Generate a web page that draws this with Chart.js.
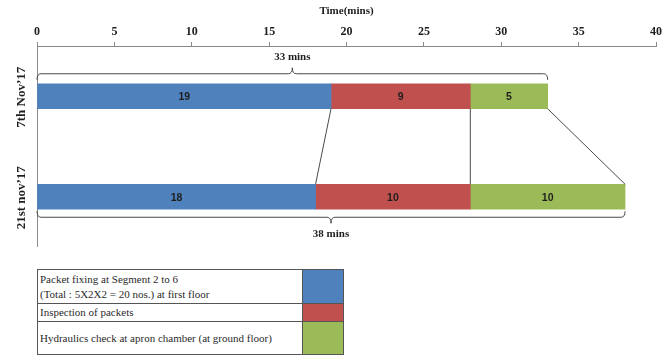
<!DOCTYPE html>
<html>
<head>
<meta charset="utf-8">
<script src="https://cdn.jsdelivr.net/npm/chart.js@4/dist/chart.umd.min.js"></script>
<style>
  html, body { margin: 0; padding: 0; background: #fff; }
  #wrap { position: relative; width: 665px; height: 358px; overflow: hidden; }
  #c { position: absolute; left: 0; top: 0; }
  #legend {
    position: absolute; left: 37px; top: 269px;
    border-collapse: collapse;
    font-family: "Liberation Serif", serif; font-size: 11px; color: #2a2a2a;
  }
  #legend td { border: 1px solid #555; padding: 0 2px; line-height: 15px; }
  #legend td.txt { width: 260px; }
  #legend td.sw { width: 40px; padding: 0; }
</style>
</head>
<body>
<div id="wrap">
  <canvas id="c" width="665" height="247"></canvas>
  <table id="legend"></table>
</div>
<script>
// Survey dates (one bar each)
const categories = ["7th Nov\u201917", "21st nov\u201917"];
// Minutes spent per activity on each date
const packetFixing = [19, 18];
const inspection = [9, 10];
const hydraulics = [5, 10];
// Activity names and colours
const activityNames = [
  "Packet fixing at Segment 2 to 6\n(Total : 5X2X2 = 20 nos.) at first floor",
  "Inspection of packets",
  "Hydraulics check at apron chamber (at ground floor)"
];
const activityColors = ["#4F81BD", "#C0504D", "#9BBB59"];
const legendRowHeights = [34, 18, 33];
// Time axis
const xMin = 0, xMax = 40, xStep = 5;
const axisTitle = "Time(mins)";

const seriesValues = [packetFixing, inspection, hydraulics];

// Legend table below the chart
const table = document.getElementById('legend');
activityNames.forEach((name, i) => {
  const tr = document.createElement('tr');
  tr.style.height = legendRowHeights[i] + 'px';
  const t = document.createElement('td');
  t.className = 'txt';
  t.innerHTML = name.split('\n').join('<br>');
  const s = document.createElement('td');
  s.className = 'sw';
  s.style.background = activityColors[i];
  tr.appendChild(t); tr.appendChild(s);
  table.appendChild(tr);
});

// Values printed in the middle of each segment
const segmentLabels = {
  id: 'segmentLabels',
  afterDatasetsDraw(chart) {
    const ctx = chart.ctx;
    ctx.save();
    ctx.font = 'bold 10.5px "Liberation Sans", sans-serif';
    ctx.fillStyle = '#1e1e1e';
    ctx.textAlign = 'center';
    ctx.textBaseline = 'middle';
    chart.data.datasets.forEach((ds, di) => {
      chart.getDatasetMeta(di).data.forEach((bar, j) => {
        ctx.fillText(String(ds.data[j]), (bar.base + bar.x) / 2, bar.y + 1);
      });
    });
    ctx.restore();
  }
};

// Lines joining the end of each activity between the two dates
const connectors = {
  id: 'connectors',
  afterDatasetsDraw(chart) {
    const ctx = chart.ctx;
    ctx.save();
    ctx.strokeStyle = '#4a4a4a';
    ctx.lineWidth = 1;
    chart.data.datasets.forEach((ds, di) => {
      const bars = chart.getDatasetMeta(di).data;
      const a = bars[0], b = bars[1];
      ctx.beginPath();
      ctx.moveTo(a.x, a.y + a.height / 2);
      ctx.lineTo(b.x, b.y - b.height / 2);
      ctx.stroke();
    });
    ctx.restore();
  }
};

// Curly braces showing the total time for each date
function drawBrace(ctx, x0, x1, y, dir) {
  const xm = (x0 + x1) / 2, h = 6, r = 4;
  ctx.beginPath();
  ctx.moveTo(x0, y - dir * h);
  ctx.quadraticCurveTo(x0, y, x0 + r, y);
  ctx.lineTo(xm - r, y);
  ctx.quadraticCurveTo(xm, y, xm, y + dir * h);
  ctx.quadraticCurveTo(xm, y, xm + r, y);
  ctx.lineTo(x1 - r, y);
  ctx.quadraticCurveTo(x1, y, x1, y - dir * h);
  ctx.stroke();
  return xm;
}
const totals = {
  id: 'totals',
  afterDatasetsDraw(chart) {
    const ctx = chart.ctx;
    const xs = chart.scales.x;
    const n = chart.data.datasets.length;
    ctx.save();
    ctx.strokeStyle = '#4a4a4a';
    ctx.lineWidth = 1;
    ctx.fillStyle = '#1e1e1e';
    ctx.font = 'bold 11px "Liberation Serif", serif';
    ctx.textAlign = 'center';
    ctx.textBaseline = 'middle';
    categories.forEach((cat, j) => {
      const total = seriesValues.reduce((s, arr) => s + arr[j], 0);
      const bar = chart.getDatasetMeta(n - 1).data[j];
      const x0 = xs.getPixelForValue(0), x1 = xs.getPixelForValue(total);
      const dir = j === 0 ? -1 : 1;
      const y = j === 0 ? bar.y - bar.height / 2 - 10 : bar.y + bar.height / 2 + 8;
      const xm = drawBrace(ctx, x0, x1, y, dir);
      ctx.fillText(total + ' mins', xm, y + dir * 17);
    });
    ctx.restore();
  }
};

// Rotated date labels beside the bars
const dateLabels = {
  id: 'dateLabels',
  afterDraw(chart) {
    const ctx = chart.ctx;
    const ys = chart.scales.y;
    ctx.save();
    ctx.fillStyle = '#1e1e1e';
    ctx.font = 'bold 13px "Liberation Serif", serif';
    ctx.textAlign = 'center';
    ctx.textBaseline = 'middle';
    categories.forEach((cat, i) => {
      ctx.save();
      ctx.translate(22, ys.getPixelForValue(i) + 1);
      ctx.rotate(-Math.PI / 2);
      ctx.fillText(cat, 0, 0);
      ctx.restore();
    });
    ctx.restore();
  }
};

new Chart(document.getElementById('c'), {
  type: 'bar',
  data: {
    labels: categories,
    datasets: seriesValues.map((vals, i) => ({
      label: activityNames[i],
      data: vals,
      backgroundColor: activityColors[i],
      borderWidth: 0,
      barThickness: 25
    }))
  },
  options: {
    indexAxis: 'y',
    responsive: false,
    animation: false,
    layout: { padding: { left: 0, right: 9, top: 0, bottom: 0 } },
    plugins: { legend: { display: false }, tooltip: { enabled: false } },
    scales: {
      x: {
        position: 'top',
        stacked: true,
        min: xMin, max: xMax,
        afterFit(scale) { scale.height = 46; },
        ticks: {
          stepSize: xStep,
          padding: 3,
          color: '#1e1e1e',
          font: { family: '"Liberation Serif", serif', weight: 'bold', size: 12 }
        },
        grid: { drawOnChartArea: false, drawTicks: true, tickLength: 4, color: '#8a8a8a' },
        border: { color: '#8a8a8a' },
        title: {
          display: true,
          text: axisTitle,
          color: '#1e1e1e',
          padding: { top: 5, bottom: 0 },
          font: { family: '"Liberation Serif", serif', weight: 'bold', size: 11 }
        }
      },
      y: {
        stacked: true,
        afterFit(scale) { scale.width = 37; },
        ticks: { display: false },
        grid: { display: false },
        border: { color: '#8a8a8a' }
      }
    }
  },
  plugins: [segmentLabels, connectors, totals, dateLabels]
});
</script>
</body>
</html>
